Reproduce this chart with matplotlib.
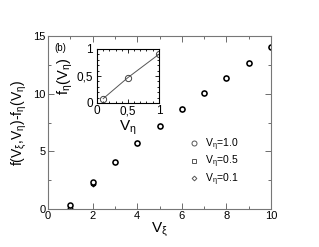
import matplotlib
matplotlib.use("Agg")
import matplotlib.pyplot as plt
from matplotlib.ticker import MultipleLocator, FuncFormatter

v_xi = [1, 2, 3, 4, 5, 6, 7, 8, 9, 10]
f_v10 = [0.35, 2.3, 4.05, 5.7, 7.2, 8.65, 10.05, 11.4, 12.7, 14.05]
f_v05 = [0.2, 2.25, 4.05, 5.7, 7.2, 8.65, 10.05, 11.4, 12.7, 14.05]
f_v01 = [0.05, 2.2, 4.05, 5.7, 7.2, 8.65, 10.05, 11.4, 12.7, 14.05]
labels = ["V$_\\eta$=1.0", "V$_\\eta$=0.5", "V$_\\eta$=0.1"]

inset_v = [0.1, 0.5, 1.0]
inset_f = [0.08, 0.47, 0.9]

plt.rcParams['font.family'] = ['Liberation Sans', 'DejaVu Sans']
plt.rcParams['mathtext.fontset'] = 'custom'
plt.rcParams['mathtext.rm'] = 'Liberation Sans'
plt.rcParams['mathtext.it'] = 'Liberation Sans'
plt.rcParams['mathtext.default'] = 'regular'

fig = plt.figure(figsize=(3.19, 2.47), dpi=100)
ax = fig.add_axes([0.15, 0.154, 0.70, 0.700])

ms = 3.6
ax.plot(v_xi, f_v01, 'D', mfc='none', mec='black', ms=ms - 1.2, mew=0.9, label=labels[2], linestyle='none')
ax.plot(v_xi, f_v05, 's', mfc='none', mec='black', ms=ms - 1.0, mew=0.9, label=labels[1], linestyle='none')
ax.plot(v_xi, f_v10, 'o', mfc='white', mec='black', ms=ms, mew=1.1, label=labels[0], linestyle='none')

ax.set_xlim(0, 10)
ax.set_ylim(0, 15)
ax.xaxis.set_major_locator(MultipleLocator(2))
ax.xaxis.set_minor_locator(MultipleLocator(1))
ax.yaxis.set_major_locator(MultipleLocator(5))
ax.yaxis.set_minor_locator(MultipleLocator(2.5))
ax.tick_params(which='both', direction='in', top=True, right=True, labelsize=8, pad=1.5, width=0.6, colors='#555555', labelcolor='black')
ax.tick_params(which='major', length=4)
ax.tick_params(which='minor', length=2.5)
for s in ax.spines.values():
    s.set_color('#777777')
    s.set_linewidth(0.8)

ax.set_xlabel("V$_\\xi$", fontsize=11, labelpad=0)
ax.set_ylabel("f(V$_\\xi$,V$_\\eta$)-f$_\\eta$(V$_\\eta$)", fontsize=10, labelpad=3)
ax.text(0.03, 0.96, "(b)", transform=ax.transAxes, fontsize=7, va='top', ha='left')

h, l = ax.get_legend_handles_labels()
order = [2, 1, 0]
leg = ax.legend([h[i] for i in order], [l[i] for i in order], loc='lower left',
                bbox_to_anchor=(0.6, 0.08), frameon=False, fontsize=7.5,
                handlelength=1.0, handletextpad=0.5, labelspacing=0.12, borderpad=0.2)
for hh in leg.legend_handles:
    hh.set_markeredgecolor('#555555')
    hh.set_markeredgewidth(0.7)
    hh.set_markerfacecolor('none')

ins = fig.add_axes([0.304, 0.583, 0.194, 0.219])
ins.plot(inset_v, inset_f, '-', color='#555555', lw=0.7)
ins.plot(inset_v, inset_f, 'o', mfc='none', mec='#444444', ms=4.5, mew=0.7)
ins.set_xlim(0, 1)
ins.set_ylim(0, 1)
ins.xaxis.set_major_locator(MultipleLocator(0.5))
ins.xaxis.set_minor_locator(MultipleLocator(0.1))
ins.yaxis.set_major_locator(MultipleLocator(0.5))
ins.yaxis.set_minor_locator(MultipleLocator(0.1))
fmt = FuncFormatter(lambda v, p: ('%g' % v).replace('.', ','))
ins.xaxis.set_major_formatter(fmt)
ins.yaxis.set_major_formatter(fmt)
ins.tick_params(which='both', direction='in', top=True, right=True, labelsize=8.5, width=0.6)
ins.tick_params(axis='x', pad=1.5)
ins.tick_params(axis='y', pad=3.0)
ins.tick_params(which='major', length=3)
ins.tick_params(which='minor', length=1.5)
for s in ins.spines.values():
    s.set_linewidth(0.8)
ins.set_xlabel("V$_\\eta$", fontsize=11, labelpad=1)
ins.set_ylabel("f$_\\eta$(V$_\\eta$)", fontsize=10.5, labelpad=1)

fig.savefig("out.png", dpi=100)
